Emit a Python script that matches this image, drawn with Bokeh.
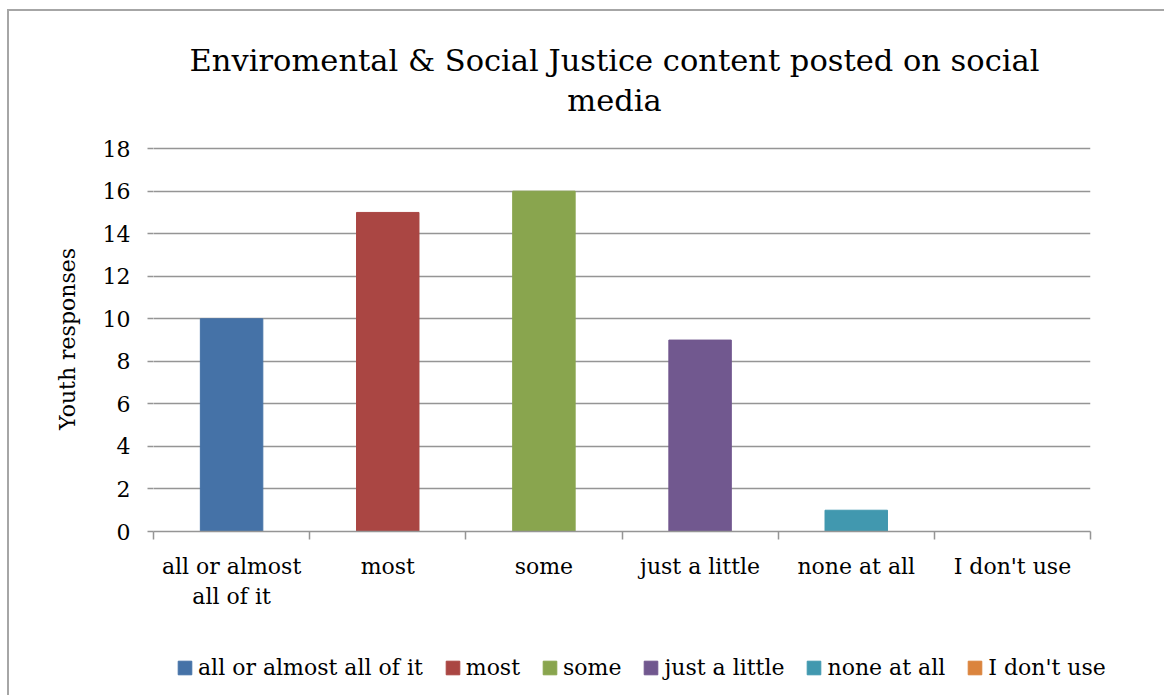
from bokeh.plotting import figure
from bokeh.layouts import column
from bokeh.models import (ColumnDataSource, Range1d, FixedTicker, Legend, LegendItem, Label)
from bokeh.embed import file_html
from bokeh.resources import INLINE

categories = ["all or almost all of it", "most", "some", "just a little", "none at all", "I don't use"]
tick_labels = ["all or almost\nall of it", "most", "some", "just a little", "none at all", "I don't use"]
values = [10, 15, 16, 9, 1, 0]
colors = ["#4572A7", "#AA4643", "#89A54E", "#71588F", "#4198AF", "#DB843D"]
y_ticks = [0, 2, 4, 6, 8, 10, 12, 14, 16, 18]
title_lines = ["Enviromental & Social Justice content posted on social", "media"]
y_title = "Youth responses"

FONT = "DejaVu Serif"
GRAY = "#959595"
W = 1155

centers = [i + 0.5 for i in range(len(categories))]
src = ColumnDataSource(dict(x=centers, top=values, color=colors, cat=categories))

# ---------- title strip ----------
top = figure(width=W, height=115, output_backend="svg", toolbar_location=None,
             x_range=Range1d(0, W), y_range=Range1d(115, 0), min_border=0,
             x_axis_location=None, y_axis_location=None, title=None)
top.frame_align = False
top.outline_line_color = None
top.grid.visible = False
for txt, yy in zip(title_lines, [49, 89]):
    top.add_layout(Label(x=605, y=yy, text=txt, text_align="center", text_baseline="middle",
                         text_font=FONT, text_font_size="30.5px", text_color="black"))

# ---------- main chart ----------
p = figure(width=W, height=485, output_backend="svg", toolbar_location=None,
           x_range=Range1d(0, 6), y_range=Range1d(0, 18.1),
           min_border_left=144, min_border_right=74, min_border_top=20, min_border_bottom=79,
           title=None)
p.outline_line_color = None

r = p.vbar(x="x", top="top", width=0.4, color="color", source=src)

p.xgrid.grid_line_color = None
p.ygrid.ticker = FixedTicker(ticks=y_ticks)
p.ygrid.grid_line_color = GRAY
p.ygrid.grid_line_width = 1.5

p.yaxis.ticker = FixedTicker(ticks=y_ticks)
p.yaxis.axis_line_color = None
p.yaxis.major_tick_in = 0
p.yaxis.major_tick_out = 6
p.yaxis.major_tick_line_color = GRAY
p.yaxis.major_tick_line_width = 1.5
p.yaxis.minor_tick_line_color = None
p.yaxis.major_label_text_font = FONT
p.yaxis.major_label_text_font_size = "22px"
p.yaxis.major_label_text_color = "black"
p.yaxis.major_label_standoff = 17
p.yaxis.axis_label = y_title
p.yaxis.axis_label_text_font = FONT
p.yaxis.axis_label_text_font_size = "22px"
p.yaxis.axis_label_text_font_style = "normal"
p.yaxis.axis_label_text_color = "black"
p.yaxis.axis_label_standoff = 20

p.xaxis.ticker = FixedTicker(ticks=centers, minor_ticks=list(range(len(categories) + 1)))
p.xaxis.major_label_overrides = {c: t for c, t in zip(centers, tick_labels)}
p.xaxis.axis_line_color = GRAY
p.xaxis.axis_line_width = 1.5
p.xaxis.major_tick_line_color = None
p.xaxis.major_tick_out = 0
p.xaxis.major_tick_in = 0
p.xaxis.minor_tick_line_color = GRAY
p.xaxis.minor_tick_line_width = 1.5
p.xaxis.minor_tick_out = 8
p.xaxis.minor_tick_in = 0
p.xaxis.major_label_text_font = FONT
p.xaxis.major_label_text_font_size = "22px"
p.xaxis.major_label_text_color = "black"
p.xaxis.major_label_standoff = 14

# ---------- legend strip ----------
leg = figure(width=W, height=84, output_backend="svg", toolbar_location=None,
             x_range=Range1d(0, 6), y_range=Range1d(100, 101), min_border=0,
             x_axis_location=None, y_axis_location=None, title=None)
leg.frame_align = False
leg.outline_line_color = None
leg.grid.visible = False
lr = leg.vbar(x="x", top="top", width=0.4, color="color", source=src)  # out of view, keys only
legend = Legend(items=[LegendItem(label=c, renderers=[lr], index=i) for i, c in enumerate(categories)],
                orientation="horizontal", location=(167, 15),
                spacing=21, glyph_width=17, glyph_height=17, label_standoff=5,
                padding=0, margin=0, border_line_color=None, background_fill_alpha=0,
                label_text_font=FONT, label_text_font_size="22px", label_text_color="black")
leg.add_layout(legend, "center")

layout = column(top, p, leg, spacing=0)
layout.margin = (9, 0, 0, 7)
layout.styles = {"border-top": "2px solid #a6a6a6", "border-left": "2px solid #a6a6a6"}

open("out.html", "w").write(file_html(layout, INLINE))
